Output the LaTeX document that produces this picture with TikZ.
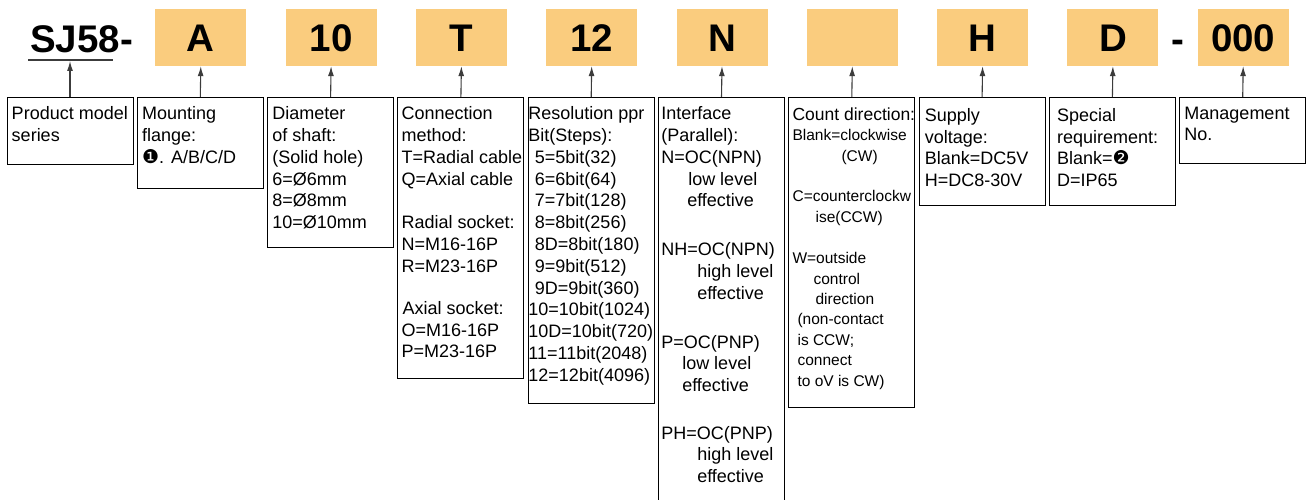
\documentclass[tikz,border=0pt]{standalone}
\usepackage{fontspec}
\setmainfont{Liberation Sans}
\newfontfamily\dingfont{DejaVu Sans}
\usetikzlibrary{arrows.meta}
\definecolor{codeorange}{RGB}{250,204,126}
\definecolor{arrowgray}{RGB}{60,60,60}

\newcommand{\codefont}{\fontsize{38.5}{40}\selectfont\bfseries}
\newcommand{\infofont}{\fontsize{18}{21.8}\selectfont}
\newcommand{\smallinfo}{\fontsize{15.5}{20.4}\selectfont}
\newcommand{\blackone}{{\dingfont\fontsize{19}{19}\selectfont ❶}}
\newcommand{\blacktwo}{{\dingfont\fontsize{19}{19}\selectfont ❷}}

\tikzset{
  codebox/.style={fill=codeorange, minimum width=91pt, minimum height=57pt, inner sep=0pt, font=\codefont, text height=27.2pt, text depth=0pt},
  codetext/.style={inner sep=0pt, font=\codefont, text height=27.2pt, text depth=0pt},
  infobox/.style={draw=black, line width=0.9pt, minimum width=126pt, anchor=north, inner sep=0pt},
  infotext/.style={anchor=north west, align=left, inner sep=0pt, font=\infofont},
  pointer/.style={-{Latex[length=10pt,width=6pt]}, line width=1.1pt, draw=arrowgray}
}

\begin{document}
\begin{tikzpicture}[x=1pt,y=-1pt]
\useasboundingbox (0,0) rectangle (1308,500);
\clip (0,0) rectangle (1308,500);

% model code
\node[codetext] (series) at (81.5,38.5) {SJ58-};
\draw[line width=1.3pt, arrowgray] (28,60) -- (113,60);
\coordinate (ul) at (70,61);
\foreach \i/\code in {1/A,2/10,3/T,4/12,5/N,6/{},7/H,8/D,9/000}
  \node[codebox] (c\i) at (70.5+130.3*\i,37.5) {\code};
\node[codetext] (sep) at (1178,38.5) {-};

% explanation boxes
\foreach \i/\h in {0/67,1/91,2/150,3/281,4/306,5/415,6/310,7/108,8/108,9/66}
  \node[infobox, minimum height=\h pt] (b\i) at (70+130.3*\i,97) {};

% arrows
\draw[pointer] (b0.north) -- (ul);
\foreach \i in {1,...,9}
  \draw[pointer] (b\i.north) -- (c\i.south);

% texts
\node[infotext] (t0) at ([shift={(5,9.5)}]b0.north west) {Product model\\series};
\node[infotext] (t1) at ([shift={(5,9.5)}]b1.north west) {Mounting\\flange:\\\blackone.\hspace{7pt}A/B/C/D};
\node[infotext] (t2) at ([shift={(5,9.5)}]b2.north west) {Diameter\\of shaft:\\(Solid hole)\\6=Ø6mm\\8=Ø8mm\\10=Ø10mm};
\node[infotext] (t3) at ([shift={(4,9.5)}]b3.north west) {Connection\\method:\\T=Radial cable\\Q=Axial cable\\[21.5pt]Radial socket:\\N=M16-16P\\R=M23-16P\\[20.5pt]\hspace*{1pt}Axial socket:\\O=M16-16P\\P=M23-16P};
\node[infotext] (t4) at ([shift={(0.5,9.5)}]b4.north west) {Resolution ppr\\Bit(Steps):\\\hspace*{6.5pt}5=5bit(32)\\\hspace*{6.5pt}6=6bit(64)\\\hspace*{6.5pt}7=7bit(128)\\\hspace*{6.5pt}8=8bit(256)\\\hspace*{6.5pt}8D=8bit(180)\\\hspace*{6.5pt}9=9bit(512)\\\hspace*{6.5pt}9D=9bit(360)\\10=10bit(1024)\\10D=10bit(720)\\11=11bit(2048)\\12=12bit(4096)};
\node[infotext] (t5) at ([shift={(3,9.5)}]b5.north west) {Interface\\(Parallel):\\N=OC(NPN)\\\hspace*{27pt}low level\\\hspace*{26pt}effective\\[27pt]NH=OC(NPN)\\\hspace*{36pt}high level\\\hspace*{36pt}effective\\[27pt]P=OC(PNP)\\\hspace*{21pt}low level\\\hspace*{21pt}effective\\[25.5pt]PH=OC(PNP)\\\hspace*{36pt}high level\\\hspace*{36pt}effective};
\node[infotext, font=\smallinfo] (t6) at ([shift={(4,10.5)}]b6.north west) {{\fontsize{17.5}{20}\selectfont Count direction:}\\Blank=clockwise\\\hspace*{49pt}(CW)\\[20.4pt]C=counterclockw\\\hspace*{23pt}ise(CCW)\\[21pt]W=outside\\\hspace*{21pt}control\\\hspace*{23pt}direction\\\hspace*{5pt}(non-contact\\\hspace*{5pt}is CCW;\\\hspace*{5pt}connect\\\hspace*{5pt}to oV is CW)};
\node[infotext] (t7) at ([shift={(6,11)}]b7.north west) {Supply\\voltage:\\Blank=DC5V\\H=DC8-30V};
\node[infotext] (t8) at ([shift={(8,11)}]b8.north west) {Special\\requirement:\\Blank=\blacktwo\\D=IP65};
\node[infotext] (t9) at ([shift={(5,9.5)}]b9.north west) {Management\\No.};
\end{tikzpicture}
\end{document}
